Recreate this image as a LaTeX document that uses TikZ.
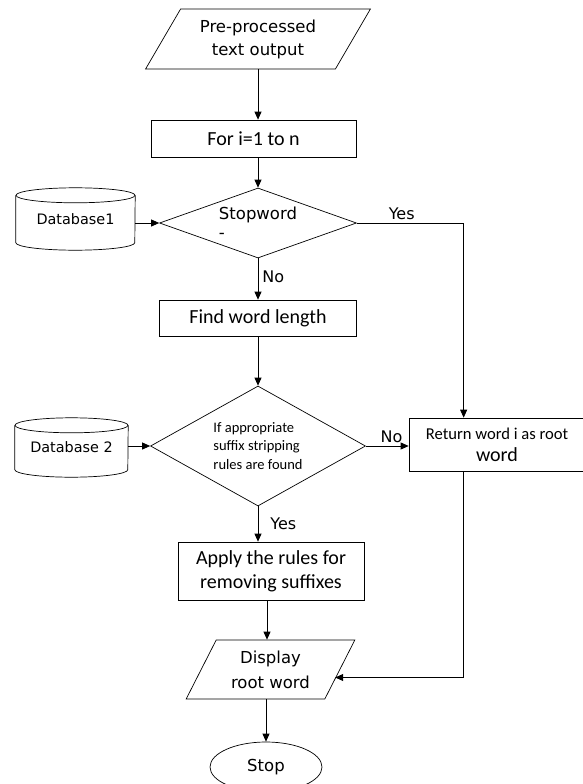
\documentclass[tikz,border=0pt]{standalone}
\usepackage{fontspec}
\setmainfont{DejaVu Sans}
\newfontfamily\carl{Carlito}
\usetikzlibrary{shapes.geometric,arrows.meta,positioning}

\tikzset{
  box/.style={rectangle, draw, line width=0.7pt, inner sep=0pt, align=center},
  io/.style={trapezium, trapezium stretches=true, draw, line width=0.7pt, inner sep=0pt, align=center},
  decision/.style={diamond, draw, line width=0.7pt, inner sep=0pt, align=left},
  dbnode/.style={inner sep=0pt, align=center, font=\fontsize{14.4}{17}\selectfont},
  flow/.style={-{Triangle[length=8pt,width=7pt]}, line width=0.8pt},
  lbl/.style={font=\fontsize{16}{18}\selectfont, inner sep=0pt},
}

\begin{document}
\begin{tikzpicture}[x=1pt, y=-1pt]
	\useasboundingbox (0,0) rectangle (582,784);
	
	\node[io, minimum width=225pt, minimum height=60pt, trapezium left angle=56, trapezium right angle=124, font=\fontsize{16.5}{23}\selectfont] (pre) at (258,39) {Pre-processed\\text output};
	\node[box, minimum width=205pt, minimum height=37pt, font=\carl\fontsize{20}{24}\selectfont] (loop) at (253.5,138.5) {For i=1 to n};
	\node[decision, minimum width=197pt, minimum height=70pt, aspect=2.8, font=\fontsize{16.5}{19}\selectfont] (stopw) at (258,223) {Stopword\\-};
	\node[box, minimum width=197pt, minimum height=36pt, font=\carl\fontsize{20}{24}\selectfont] (findlen) at (258,318) {Find word length};
	\node[decision, minimum width=215pt, minimum height=120pt, aspect=1.79, font=\carl\fontsize{14.5}{18.5}\selectfont] (rules) at (258,446) {If appropriate\\suffix stripping\\rules are found};
	\node[box, minimum width=176pt, minimum height=53pt, font=\carl\fontsize{16.6}{22}\selectfont] (ret) at (497,444.5) {Return word i as root\\{\fontsize{20}{22}\selectfont word}};
	\node[box, minimum width=186pt, minimum height=58pt, font=\carl\fontsize{20}{24}\selectfont] (apply) at (271,571) {Apply the rules for\\removing suffixes};
	\node[io, minimum width=169pt, minimum height=59pt, trapezium left angle=60, trapezium right angle=120, font=\fontsize{16.5}{25}\selectfont] (disp) at (270.5,669.5) {Display\\root word};
	\node[ellipse, draw, line width=0.7pt, minimum width=112pt, minimum height=50pt, inner sep=0pt, font=\fontsize{16.5}{20}\selectfont] (stop) at (266,767) {Stop};
	
	% databases
	\node[dbnode, minimum width=119pt, minimum height=47pt] (db1) at (75.5,219) {Database1};
	\draw[line width=0.7pt] (db1.north west) -- (db1.south west) arc[start angle=180, end angle=360, x radius=59.5pt, y radius=7.5pt] -- (db1.north east);
	\draw[line width=0.7pt] (db1.north) ellipse[x radius=59.5pt, y radius=7.5pt];
	\node[dbnode, minimum width=113pt, minimum height=44pt] (db2) at (71.5,447.5) {Database 2};
	\draw[line width=0.7pt] (db2.north west) -- (db2.south west) arc[start angle=180, end angle=360, x radius=56.5pt, y radius=7.5pt] -- (db2.north east);
	\draw[line width=0.7pt] (db2.north) ellipse[x radius=56.5pt, y radius=7.5pt];
	
	\coordinate (rettop) at ([xshift=55pt]ret.north west);
	\coordinate (retbot) at ([xshift=55pt]ret.south west);
	
	\draw[flow] (pre.south) -- (pre.south |- loop.north);
	\draw[flow] (stopw.north |- loop.south) -- (stopw.north);
	\draw[flow] (db1.east |- stopw.west) -- (stopw.west);
	\draw[flow] (stopw.south) -- (findlen.north) node[lbl, pos=0.45, right=4pt] {No};
	\draw[flow] (stopw.east) -| (rettop) node[lbl, pos=0.21, above=3pt] {Yes};
	\draw[flow] (findlen.south) -- (rules.north);
	\draw[flow] (db2.east |- rules.west) -- (rules.west);
	\draw[flow] (rules.east) -- (rules.east -| ret.west) node[lbl, pos=0.6, above=3pt] {No};
	\draw[flow] (rules.south) -- (rules.south |- apply.north) node[lbl, midway, right=12pt] {Yes};
	\draw[flow] ([xshift=-4pt]apply.south) -- ([xshift=-4pt]apply.south |- disp.north);
	\draw[flow] (retbot) |- ([xshift=-5pt,yshift=-8pt]disp.east);
	\draw[flow] (stop.north |- disp.south) -- (stop.north);
\end{tikzpicture}
\end{document}
